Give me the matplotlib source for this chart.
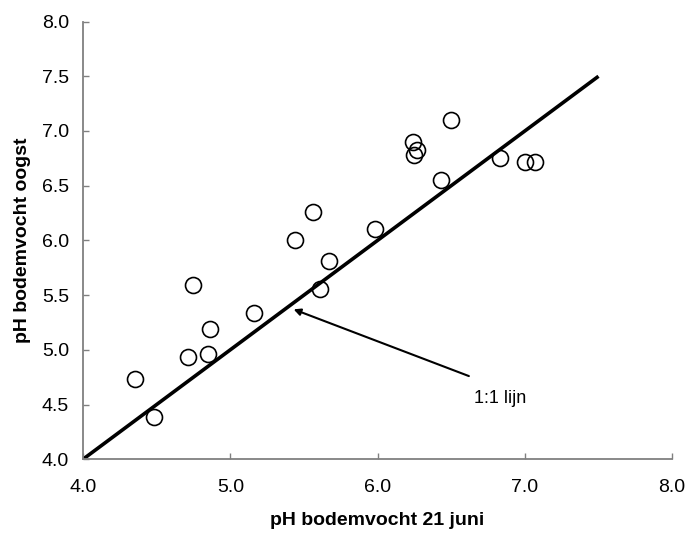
import numpy as np
import matplotlib.pyplot as plt

plt.rcParams['font.family'] = ['Liberation Sans', 'DejaVu Sans']

# pH soil moisture 21 June (x) vs at harvest (y)
ph_juni = [4.35, 4.48, 4.71, 4.75, 4.85, 4.86, 5.16, 5.44, 5.56, 5.61,
           5.67, 5.98, 6.24, 6.25, 6.27, 6.43, 6.50, 6.83, 7.00, 7.07]
ph_oogst = [4.73, 4.39, 4.93, 5.59, 4.96, 5.19, 5.34, 6.00, 6.26, 5.56,
            5.81, 6.10, 6.90, 6.78, 6.83, 6.55, 7.10, 6.75, 6.72, 6.72]
lijn = [4.0, 7.5]
ticks_x = [4.0, 5.0, 6.0, 7.0, 8.0]
ticks_y = [4.0, 4.5, 5.0, 5.5, 6.0, 6.5, 7.0, 7.5, 8.0]

fig = plt.figure(figsize=(6.89, 5.39), dpi=100)
ax = fig.add_axes([0.1205, 0.148, 0.855, 0.812])

ax.plot(lijn, lijn, color='black', lw=2.6, solid_capstyle='butt', zorder=2)
ax.plot(ph_juni, ph_oogst, 'o', ms=11.5, mfc='none', mec='black', mew=1.2, zorder=3)

ax.annotate('', xy=(5.43, 5.37), xytext=(6.62, 4.76),
            arrowprops=dict(arrowstyle='-|>', color='black', lw=1.5,
                            mutation_scale=10, shrinkA=0, shrinkB=0))
ax.text(6.83, 4.557, '1:1 lijn', fontsize=13, ha='center', va='center')

ax.set_xlim(4.0, 8.0)
ax.set_ylim(4.0, 8.0)
ax.set_xticks(ticks_x)
ax.set_yticks(ticks_y)
ax.set_xticklabels(['%.1f' % t for t in ticks_x])
ax.set_yticklabels(['%.1f' % t for t in ticks_y])
ax.tick_params(axis='both', direction='in', length=4, width=1, color='#808080',
               labelsize=14)
ax.tick_params(axis='x', pad=14)
ax.tick_params(axis='y', pad=10)

for s in ['top', 'right']:
    ax.spines[s].set_visible(False)
for s in ['left', 'bottom']:
    ax.spines[s].set_color('#808080')
    ax.spines[s].set_linewidth(1.3)

ax.set_xlabel('pH bodemvocht 21 juni', fontsize=14, fontweight='bold', labelpad=12)
ax.set_ylabel('pH bodemvocht oogst', fontsize=14, fontweight='bold', labelpad=8)

fig.savefig('out.png', dpi=100)
